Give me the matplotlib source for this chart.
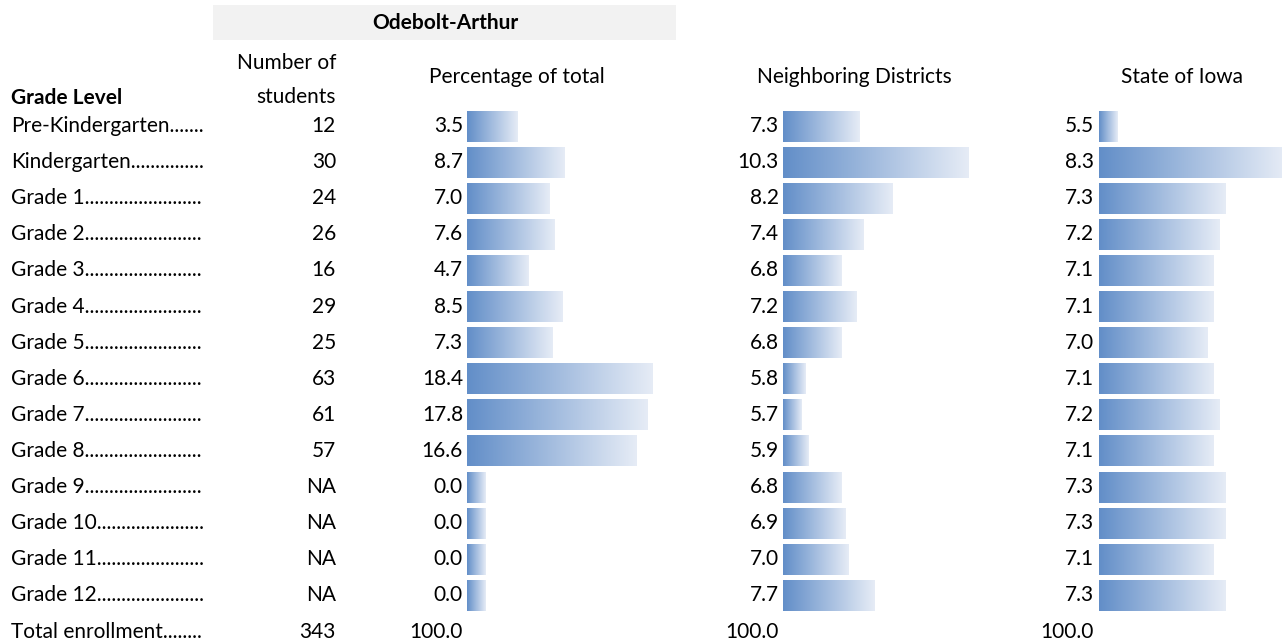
import numpy as np
import matplotlib
matplotlib.use("Agg")
import matplotlib.pyplot as plt
from matplotlib.colors import LinearSegmentedColormap

# data
grades = ["Pre-Kindergarten", "Kindergarten", "Grade 1", "Grade 2", "Grade 3",
          "Grade 4", "Grade 5", "Grade 6", "Grade 7", "Grade 8", "Grade 9",
          "Grade 10", "Grade 11", "Grade 12"]
students = ["12", "30", "24", "26", "16", "29", "25", "63", "61", "57",
            "NA", "NA", "NA", "NA"]
pct_total = [3.5, 8.7, 7.0, 7.6, 4.7, 8.5, 7.3, 18.4, 17.8, 16.6, 0.0, 0.0, 0.0, 0.0]
neighboring = [7.3, 10.3, 8.2, 7.4, 6.8, 7.2, 6.8, 5.8, 5.7, 5.9, 6.8, 6.9, 7.0, 7.7]
state_iowa = [5.5, 8.3, 7.3, 7.2, 7.1, 7.1, 7.0, 7.1, 7.2, 7.1, 7.3, 7.3, 7.1, 7.3]
total_label = "Total enrollment"
total_students = "343"
total_pct = "100.0"
district = "Odebolt-Arthur"

plt.rcParams['font.family'] = ['Lato', 'DejaVu Sans']
FS = 15.0

W, H = 1282, 644
fig = plt.figure(figsize=(W / 100, H / 100), dpi=100)
ax = fig.add_axes([0, 0, 1, 1])
ax.set_xlim(0, W)
ax.set_ylim(H, 0)
ax.axis('off')

cmap = LinearSegmentedColormap.from_list("bar", ["#628ec8", "#e6ecf6"])
grad = np.linspace(0, 1, 256).reshape(1, -1)

row0, step = 126, 36.1
bar_h = 31
cell_w = 186


def data_bars(values, x_bar, x_num):
    vmin, vmax = min(values), max(values)
    for i, v in enumerate(values):
        y = row0 + i * step
        length = cell_w * (0.1 + 0.9 * (v - vmin) / (vmax - vmin))
        ax.imshow(grad, cmap=cmap, aspect='auto', interpolation='bilinear',
                  extent=[x_bar, x_bar + length, y + bar_h / 2, y - bar_h / 2])
        ax.text(x_num, y, f"{v:.1f}", ha='right', va='center', fontsize=FS)
    ax.text(x_num, row0 + len(values) * step + 1, total_pct, ha='right',
            va='center', fontsize=FS)


# header
ax.add_patch(plt.Rectangle((213, 5), 463, 35, color="#f2f2f2", lw=0))
ax.text(445, 23, district, ha='center', va='center', fontsize=FS, fontweight='bold')
ax.text(336, 63, "Number of", ha='right', va='center', fontsize=FS)
ax.text(336, 97, "students", ha='right', va='center', fontsize=FS)
ax.text(11, 98, "Grade Level", ha='left', va='center', fontsize=FS, fontweight='bold')
ax.text(517, 77, "Percentage of total", ha='center', va='center', fontsize=FS)
ax.text(854, 77, "Neighboring Districts", ha='center', va='center', fontsize=FS)
ax.text(1182, 77, "State of Iowa", ha='center', va='center', fontsize=FS)

# row labels with dot leaders
fig.canvas.draw()
renderer = fig.canvas.get_renderer()
inv = ax.transData.inverted()
for i, name in enumerate(grades + [total_label]):
    y = row0 + i * step + (1 if i == len(grades) else 0)
    t = ax.text(11, y, name, ha='left', va='center', fontsize=FS)
    s = name
    while True:
        t.set_text(s + ".")
        bb = t.get_window_extent(renderer)
        if inv.transform((bb.x1, bb.y1))[0] > 206:
            break
        s += "."
    t.set_text(s)

for i, n in enumerate(students + [total_students]):
    y = row0 + i * step + (1 if i == len(students) else 0)
    ax.text(336, y, n, ha='right', va='center', fontsize=FS)

data_bars(pct_total, 467, 463)
data_bars(neighboring, 783, 779)
data_bars(state_iowa, 1099, 1094)

ax.set_xlim(0, W)
ax.set_ylim(H, 0)
fig.savefig("out.png", dpi=100)
